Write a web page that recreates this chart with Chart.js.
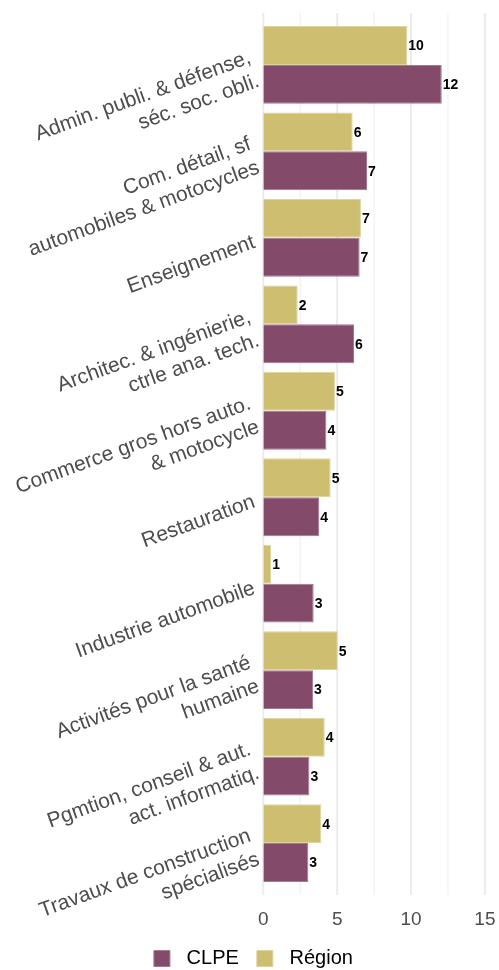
<!DOCTYPE html>
<html lang="fr">
<head>
<meta charset="utf-8">
<title>Secteurs CLPE / Région</title>
<script src="https://cdn.jsdelivr.net/npm/chart.js@4/dist/chart.umd.min.js"></script>
<style>
  html, body { margin: 0; padding: 0; background: #fff; }
  #wrap { position: relative; width: 499px; height: 970px; }
</style>
</head>
<body>
<div id="wrap"><canvas id="graphique"></canvas></div>
<script>
// secteurs, une ligne par entrée de tableau
const secteurs = [
  ['Admin. publi. & défense,', 'séc. soc. obli.'],
  ['Com. détail, sf', 'automobiles & motocycles'],
  ['Enseignement'],
  ['Architec. & ingénierie,', 'ctrle ana. tech.'],
  ['Commerce gros hors auto.', '& motocycle'],
  ['Restauration'],
  ['Industrie automobile'],
  ['Activités pour la santé', 'humaine'],
  ['Pgmtion, conseil & aut.', 'act. informatiq.'],
  ['Travaux de construction', 'spécialisés']
];
const region = [9.75, 6.05, 6.61, 2.33, 4.85, 4.56, 0.54, 5.04, 4.16, 3.93];
const clpe = [12.08, 7.02, 6.52, 6.14, 4.27, 3.79, 3.41, 3.37, 3.12, 3.05];
const ticksX = [0, 2.5, 5, 7.5, 10, 12.5, 15];

const GRIS_TEXTE = '#4d4d4d';
const POLICE = '"Liberation Sans", Arial, sans-serif';

// grille verticale, un peu plus haute que la zone des barres
const grille = {
  id: 'grille',
  beforeDatasetsDraw(chart) {
    const { ctx, chartArea, scales } = chart;
    const marge = (chartArea.bottom - chartArea.top) / secteurs.length * 0.1;
    ctx.save();
    ticksX.forEach(v => {
      const x = scales.x.getPixelForValue(v);
      const majeur = v % 5 === 0;
      ctx.strokeStyle = majeur ? '#ebebeb' : '#f1f1f1';
      ctx.lineWidth = majeur ? 2 : 1.3;
      ctx.beginPath();
      ctx.moveTo(x, chartArea.top - marge);
      ctx.lineTo(x, chartArea.bottom + marge);
      ctx.stroke();
    });
    ctx.restore();
  }
};

// libellés des secteurs, inclinés de 20°
const libelles = {
  id: 'libelles',
  afterDraw(chart) {
    const { ctx, scales } = chart;
    const y = scales.y;
    const lh = 25;
    ctx.save();
    ctx.font = '21px ' + POLICE;
    ctx.fillStyle = GRIS_TEXTE;
    ctx.textAlign = 'right';
    ctx.textBaseline = 'middle';
    secteurs.forEach((lignes, i) => {
      const py = y.getPixelForTick(i);
      ctx.save();
      ctx.translate(y.right - 9, py + 4);
      ctx.rotate(-20 * Math.PI / 180);
      lignes.forEach((l, k) => {
        ctx.fillText(l, 0, (k - (lignes.length - 1) / 2) * lh);
      });
      ctx.restore();
    });
    ctx.restore();
  }
};

// valeurs arrondies au bout des barres
const valeurs = {
  id: 'valeurs',
  afterDatasetsDraw(chart) {
    const { ctx } = chart;
    ctx.save();
    ctx.font = 'bold 14px ' + POLICE;
    ctx.fillStyle = '#000';
    ctx.textAlign = 'left';
    ctx.textBaseline = 'middle';
    chart.data.datasets.forEach((ds, d) => {
      chart.getDatasetMeta(d).data.forEach((bar, i) => {
        ctx.fillText(Math.round(ds.data[i]), bar.x + 1, bar.y + 1);
      });
    });
    ctx.restore();
  }
};

new Chart(document.getElementById('graphique'), {
  type: 'bar',
  data: {
    labels: secteurs,
    datasets: [
      {
        label: 'Région',
        data: region,
        backgroundColor: '#CDBE70',
        borderColor: '#ddd3a0',
        borderWidth: 1
      },
      {
        label: 'CLPE',
        data: clpe,
        backgroundColor: '#834A6A',
        borderColor: '#a47890',
        borderWidth: 1
      }
    ]
  },
  options: {
    indexAxis: 'y',
    responsive: true,
    maintainAspectRatio: false,
    animation: false,
    categoryPercentage: 0.9,
    barPercentage: 1,
    layout: { padding: { top: 21.65, right: 8.2, bottom: -8.5, left: 16 } },
    scales: {
      y: {
        type: 'category',
        grid: { display: false },
        border: { display: false },
        ticks: { display: false },
        afterFit(scale) { scale.width = 247.3; }
      },
      x: {
        type: 'linear',
        min: 0,
        max: 15.4,
        grid: { display: false },
        border: { display: false },
        afterBuildTicks(scale) { scale.ticks = ticksX.map(v => ({ value: v })); },
        afterFit(scale) {
          scale.height = 44.15;
          scale.paddingLeft = 0;
          scale.paddingRight = 0;
        },
        ticks: {
          autoSkip: false,
          maxRotation: 0,
          padding: 14,
          color: GRIS_TEXTE,
          font: { family: POLICE, size: 19 },
          callback: v => (v % 5 === 0 ? v : '')
        }
      }
    },
    plugins: {
      legend: {
        position: 'bottom',
        reverse: true,
        labels: {
          boxWidth: 16,
          boxHeight: 16,
          padding: 18,
          color: '#000',
          font: { family: POLICE, size: 20 },
          generateLabels(chart) {
            const items = Chart.defaults.plugins.legend.labels.generateLabels(chart);
            items.forEach(it => { it.text = '\u2004' + it.text; });
            return items;
          }
        }
      },
      tooltip: { enabled: false }
    }
  },
  plugins: [grille, libelles, valeurs]
});
</script>
</body>
</html>
